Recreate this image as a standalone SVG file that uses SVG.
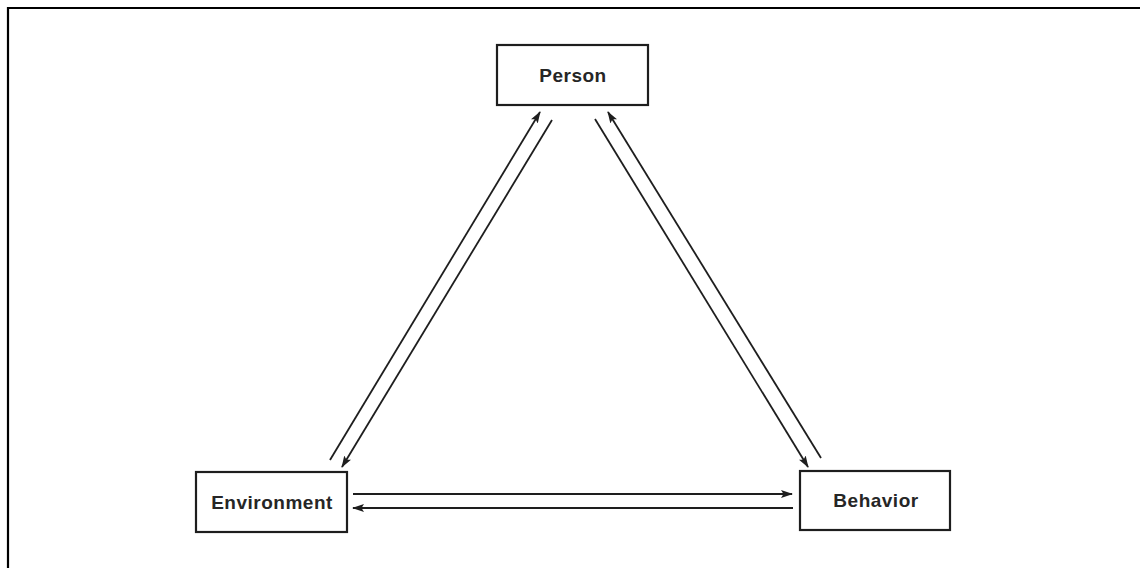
<svg xmlns="http://www.w3.org/2000/svg" width="1140" height="568" viewBox="0 0 1140 568">
<defs>
<style>
.box{fill:#fff;stroke:#1e1e1e;stroke-width:2.2}
.lbl{font-family:"Liberation Sans",Arial,sans-serif;font-weight:bold;font-size:19px;letter-spacing:0.5px;fill:#262626;text-anchor:middle}
.conn{stroke:#1e1e1e;stroke-width:1.8;fill:none;marker-end:url(#ah)}
</style>
<marker id="ah" viewBox="0 0 12 8" refX="11" refY="4" markerWidth="12" markerHeight="8" markerUnits="userSpaceOnUse" orient="auto">
<path d="M0,0 L12,4 L0,8 L2.5,4 Z" fill="#1e1e1e"/>
</marker>
</defs>
<rect width="1140" height="568" fill="#fff"/>
<path d="M8,568 V8 H1140" fill="none" stroke="#000" stroke-width="2.2"/>
<g id="connectors">
<line class="conn" x1="330" y1="460" x2="540" y2="112"/>
<line class="conn" x1="552" y1="120" x2="342" y2="467"/>
<line class="conn" x1="595" y1="119" x2="808" y2="467"/>
<line class="conn" x1="821" y1="458" x2="608" y2="112"/>
<line class="conn" x1="353" y1="494" x2="792" y2="494"/>
<line class="conn" x1="793" y1="508" x2="353" y2="508"/>
</g>
<g id="person">
<rect class="box" x="497" y="45" width="151" height="60"/>
<text class="lbl" x="573" y="82">Person</text>
</g>
<g id="environment">
<rect class="box" x="196" y="472" width="151" height="60"/>
<text class="lbl" x="272" y="509">Environment</text>
</g>
<g id="behavior">
<rect class="box" x="800" y="471" width="150" height="59"/>
<text class="lbl" x="876" y="507">Behavior</text>
</g>
</svg>
